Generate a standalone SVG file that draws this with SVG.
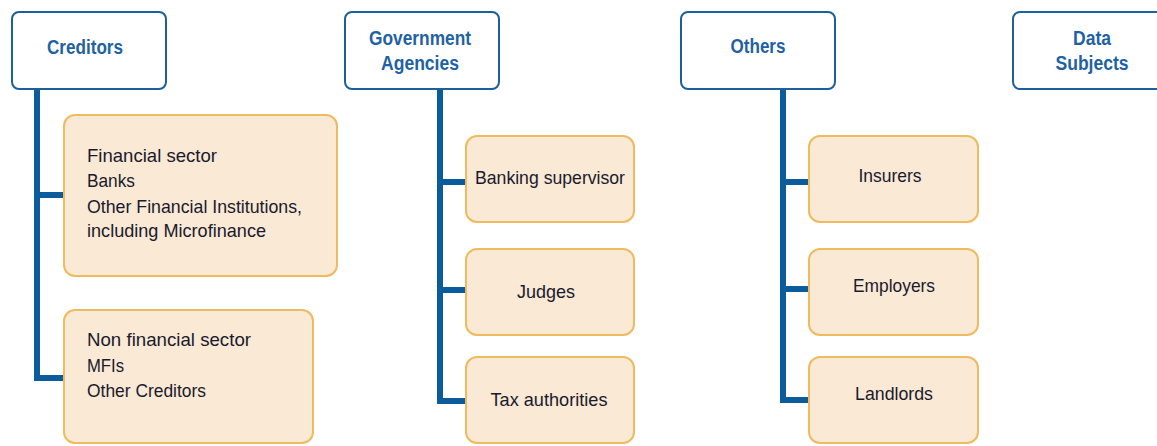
<svg xmlns="http://www.w3.org/2000/svg" width="1157" height="446" viewBox="0 0 1157 446">
<style>
.hdr{fill:#fff;stroke:#1d5f9b;stroke-width:2}
.sub{fill:#f9e9d5;stroke:#efbb5f;stroke-width:2}
.ht{font-family:"Liberation Sans",Arial,sans-serif;font-weight:bold;font-size:19.5px;fill:#1f62a3;text-anchor:middle}
.st{font-family:"Liberation Sans",Arial,sans-serif;font-size:19px;fill:#1a1a2c}
.c{text-anchor:middle}
.ln{fill:none;stroke:#0b5c9c;stroke-width:6}
</style>
<g id="connectors">
<path class="ln" d="M37 89 V378 H64 M37 195 H64"/>
<path class="ln" d="M440 89 V401 H466 M440 182 H466 M440 290 H466"/>
<path class="ln" d="M783 89 V400 H809 M783 182 H809 M783 289 H809"/>
</g>
<g id="creditors"><rect class="hdr" x="12" y="12" width="154" height="77" rx="7"/><text class="ht" x="85" y="54" textLength="76" lengthAdjust="spacingAndGlyphs">Creditors</text></g>
<g id="government"><rect class="hdr" x="345" y="12" width="154" height="77" rx="7"/><text class="ht" x="420" y="45" textLength="102" lengthAdjust="spacingAndGlyphs">Government</text><text class="ht" x="420" y="70" textLength="78" lengthAdjust="spacingAndGlyphs">Agencies</text></g>
<g id="others"><rect class="hdr" x="681" y="12" width="154" height="77" rx="7"/><text class="ht" x="758" y="53" textLength="55" lengthAdjust="spacingAndGlyphs">Others</text></g>
<g id="datasubjects"><rect class="hdr" x="1013" y="12" width="154" height="77" rx="7"/><text class="ht" x="1092" y="45" textLength="38" lengthAdjust="spacingAndGlyphs">Data</text><text class="ht" x="1092" y="70" textLength="73" lengthAdjust="spacingAndGlyphs">Subjects</text></g>
<g id="financial"><rect class="sub" x="64" y="115" width="273" height="161" rx="11"/>
<text class="st" x="87" y="162" textLength="130" lengthAdjust="spacingAndGlyphs">Financial sector</text><text class="st" x="87" y="187" textLength="48" lengthAdjust="spacingAndGlyphs">Banks</text><text class="st" x="87" y="213" textLength="215" lengthAdjust="spacingAndGlyphs">Other Financial Institutions,</text><text class="st" x="87" y="237" textLength="179" lengthAdjust="spacingAndGlyphs">including Microfinance</text></g>
<g id="nonfinancial"><rect class="sub" x="64" y="310" width="249" height="133" rx="11"/>
<text class="st" x="87" y="346" textLength="164" lengthAdjust="spacingAndGlyphs">Non financial sector</text><text class="st" x="87" y="372" textLength="37" lengthAdjust="spacingAndGlyphs">MFIs</text><text class="st" x="87" y="397" textLength="119" lengthAdjust="spacingAndGlyphs">Other Creditors</text></g>
<g id="banking"><rect class="sub" x="466" y="136" width="168" height="86" rx="11"/><text class="st c" x="550" y="184" textLength="150" lengthAdjust="spacingAndGlyphs">Banking supervisor</text></g>
<g id="judges"><rect class="sub" x="466" y="249" width="168" height="86" rx="11"/><text class="st c" x="546" y="298" textLength="58" lengthAdjust="spacingAndGlyphs">Judges</text></g>
<g id="tax"><rect class="sub" x="466" y="357" width="168" height="86" rx="11"/><text class="st c" x="549" y="406" textLength="117" lengthAdjust="spacingAndGlyphs">Tax authorities</text></g>
<g id="insurers"><rect class="sub" x="809" y="136" width="169" height="86" rx="11"/><text class="st c" x="890" y="182" textLength="63" lengthAdjust="spacingAndGlyphs">Insurers</text></g>
<g id="employers"><rect class="sub" x="809" y="249" width="169" height="86" rx="11"/><text class="st c" x="894" y="292" textLength="82" lengthAdjust="spacingAndGlyphs">Employers</text></g>
<g id="landlords"><rect class="sub" x="809" y="357" width="169" height="86" rx="11"/><text class="st c" x="894" y="400" textLength="78" lengthAdjust="spacingAndGlyphs">Landlords</text></g>
</svg>
